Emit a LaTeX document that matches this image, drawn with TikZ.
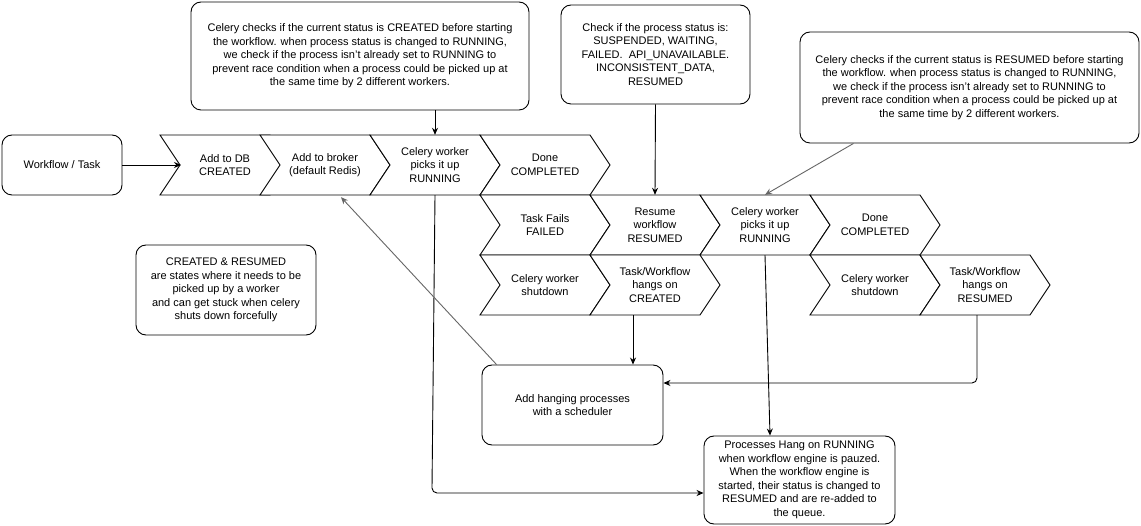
\documentclass[tikz,border=0pt]{standalone}
\usepackage{fontspec}
\setmainfont{Liberation Sans}
\usetikzlibrary{arrows.meta}
\tikzset{
  box/.style={draw,rounded corners=10pt,line width=0.9pt,align=center,inner sep=2pt},
  txt/.style={align=center,minimum width=110pt,minimum height=60pt,inner sep=0pt},
  chevst/.style={draw,line width=0.9pt,fill=white},
  arr/.style={-{Stealth[length=7pt,width=6pt]},line width=0.9pt},
  garr/.style={arr,draw=gray!80!black},
}
\newcommand\chev[4]{%
  \draw[chevst] (#2,#3) -- ++(110,0) -- ++(20,30) -- ++(-20,30) -- ++(-110,0) -- ++(20,-30) -- cycle;
  \node[txt] (#1) at (#2+65,#3+30) {#4};}
\begin{document}
\begin{tikzpicture}[x=1pt,y=-1pt,font=\fontsize{11}{13.5}\selectfont]
\useasboundingbox[fill=white] (0,0) rectangle (1141,526);
% chevrons
\chev{a1}{160}{135}{Add to DB\\CREATED}
\chev{a2}{260}{135}{Add to broker\\(default Redis)}
\chev{a3}{370}{135}{Celery worker\\picks it up\\RUNNING}
\chev{a4}{480}{135}{Done\\COMPLETED}
\chev{b1}{480}{195}{Task Fails\\FAILED}
\chev{b2}{590}{195}{Resume\\workflow\\RESUMED}
\chev{b3}{700}{195}{Celery worker\\picks it up\\RUNNING}
\chev{b4}{810}{195}{Done\\COMPLETED}
\chev{c1}{480}{255}{Celery worker\\shutdown}
\chev{c2}{590}{255}{Task/Workflow\\hangs on\\CREATED}
\chev{c3}{810}{255}{Celery worker\\shutdown}
\chev{c4}{920}{255}{Task/Workflow\\hangs on\\RESUMED}
% boxes
\node[box,minimum width=120pt,minimum height=60pt] (wf) at (62,165) {Workflow / Task};
\node[box,minimum width=338pt,minimum height=108pt] (n1) at (360,56) {Celery checks if the current status is CREATED before starting\\the workflow. when process status is changed to RUNNING,\\we check if the process isn't already set to RUNNING to\\prevent race condition when a process could be picked up at\\the same time by 2 different workers.};
\node[box,minimum width=189pt,minimum height=99pt] (n2) at (655.5,54.5) {Check if the process status is:\\SUSPENDED, WAITING,\\FAILED.\ \ API\_UNAVAILABLE.\\INCONSISTENT\_DATA,\\RESUMED};
\node[box,minimum width=339pt,minimum height=111pt] (n3) at (969.5,87.5) {Celery checks if the current status is RESUMED before starting\\the workflow. when process status is changed to RUNNING,\\we check if the process isn't already set to RUNNING to\\prevent race condition when a process could be picked up at\\the same time by 2 different workers.};
\node[box,minimum width=180pt,minimum height=90pt] (n4) at (226,290) {CREATED \& RESUMED\\are states where it needs to be\\picked up by a worker\\and can get stuck when celery\\shuts down forcefully};
\node[box,minimum width=181pt,minimum height=80pt] (hang) at (572.5,405) {Add hanging processes\\with a scheduler};
\node[box,minimum width=191pt,minimum height=88pt,inner sep=1pt] (proc) at (799.5,480) {Processes Hang on RUNNING\\when workflow engine is pauzed.\\When the workflow engine is\\started, their status is changed to\\RESUMED and are re-added to\\the queue.};
% connectors
\draw[arr] (wf) -- (181,165) coordinate (a1n);
\draw[arr] (n1.south -| a3.north) -- (a3.north);
\draw[arr] (n2.south) -- (b2.north);
\draw[garr] ([xshift=-116pt]n3.south) -- (b3.north);
\draw[arr] (a3.south) -- (432,488) [rounded corners=5pt] -- (432,493) -- (proc.west |- 0,493);
\draw[arr] (b3.south) -- ([xshift=5pt]b3.south |- proc.north);
\draw[arr] ([xshift=-22pt]c2.south) -- ([xshift=-22pt]c2.south |- hang.north);
\draw[arr,rounded corners=5pt] ([xshift=-8pt]c4.south) -- ([xshift=-8pt]c4.south |- 0,383) -- (hang.east |- 0,383);
\draw[garr] ([xshift=15pt]hang.north west) -- ([xshift=16pt,yshift=-2pt]a2.south);
\end{tikzpicture}
\end{document}
